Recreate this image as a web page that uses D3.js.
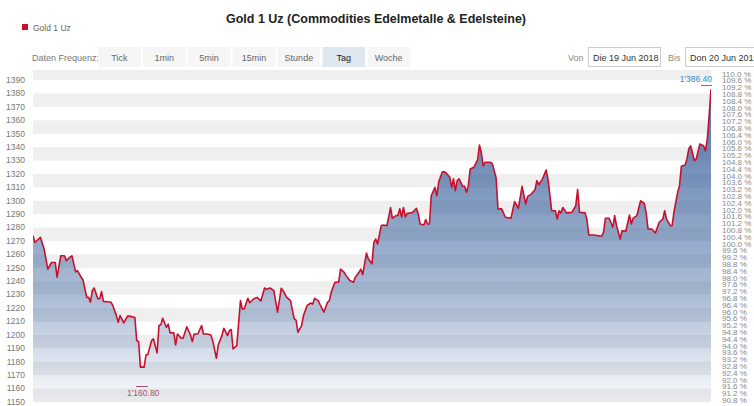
<!DOCTYPE html>
<html>
<head>
<meta charset="utf-8">
<script src="https://cdn.jsdelivr.net/npm/d3@7"></script>
<style>
  body { margin: 0; background: #fff; }
  svg { display: block; font-family: "Liberation Sans", Arial, sans-serif; }
</style>
</head>
<body>
<div id="chart"></div>
<script>
// days since 19 Jun 2018
var dayOffsets = [0,1,3,4,6,8,10,12,13,15,17,18,20,21,23,24,26,27,29,30,31,32,33,35,36,37,38,41,42,43,45,46,47,49,51,53,55,56,57,58,60,61,62,64,65,67,68,69,70,72,73,74,76,77,78,80,81,83,85,86,87,89,91,92,94,96,97,99,100,102,103,105,106,107,108,110,112,113,114,116,117,119,121,123,125,126,128,130,132,134,135,137,139,141,142,143,145,146,148,150,151,152,154,155,157,159,160,161,163,165,166,168,169,171,173,174,176,177,178,180,181,183,184,185,186,188,189,191,192,193,194,196,197,198,199,200,201,202,204,205,207,208,209,211,212,213,214,215,217,218,219,221,222,223,225,226,227,228,229,230,232,233,234,235,236,238,240,241,242,243,244,247,248,250,251,253,255,258,260,262,264,266,267,269,271,272,273,274,275,277,278,280,282,283,284,285,286,288,291,293,294,295,298,299,300,303,305,307,308,309,311,313,314,315,317,318,320,322,323,324,326,328,330,331,332,334,336,338,340,341,342,344,345,346,348,349,350,352,353,354,355,357,358,360,362,363,364,365,366];
var goldPrices = [1274,1269,1271.5,1272.8,1264,1249,1254,1254,1243,1259,1259,1255.4,1258,1259,1247,1248,1243,1241,1228,1228,1224.5,1233,1235,1227,1227,1232.3,1225,1224.5,1224.5,1222.3,1214.4,1209.4,1214.4,1209,1214,1213.8,1213,1195.7,1195,1176,1176,1185,1185.5,1195.7,1197,1186.6,1207,1207.5,1212.4,1205.7,1208,1201.5,1201.5,1192.5,1200.7,1197.5,1197.5,1206,1200,1195,1200.7,1200.7,1207,1200.7,1200.7,1200,1195.7,1182.6,1192.5,1199.5,1205,1199.5,1203.2,1204,1189.5,1192,1225.6,1219.4,1219.4,1227.3,1224,1226.8,1228,1225.3,1235,1234,1235,1233,1217,1234.8,1233,1228,1225.6,1212,1211,1202,1207,1214.4,1222,1223.8,1223,1227.3,1225.6,1222.5,1217,1224.3,1225.6,1232,1239.3,1239.3,1249,1246.7,1244.2,1240.5,1239.3,1243,1246.7,1249,1245,1261,1256.6,1253,1269,1271.5,1267.8,1281.4,1282,1281.4,1287.7,1295,1287,1289,1289,1294,1288,1295,1288,1290.7,1291,1291.5,1294.4,1290,1282.7,1282,1286,1282.7,1282.7,1303.8,1310,1303.8,1314,1321.7,1321.7,1320.7,1317.5,1310,1316.4,1307.5,1315,1316.4,1310.8,1310.8,1306.3,1311.3,1323.7,1325,1330.6,1341.6,1336,1326,1328.7,1328.7,1327.5,1317,1294,1294,1287.7,1287,1299.4,1294.4,1310.8,1297.6,1303.3,1305,1308.3,1315,1312,1314,1316.2,1323,1316.2,1292.6,1292.6,1286.4,1292.6,1291,1295,1291,1291.5,1296.4,1308.3,1291.5,1291,1286.4,1274.5,1274.5,1274,1273.6,1276.5,1287,1287,1280.3,1289,1281.5,1271.5,1277.7,1277.4,1289.4,1282.7,1287,1289,1300,1298,1291,1279,1279,1276,1284,1286.4,1292.6,1286.4,1281.5,1281.5,1291.5,1306.3,1311.3,1325.7,1326.7,1331,1338.6,1341,1330,1331,1342.3,1341,1337.3,1346,1363.4,1383.3];

var priceTicks = [1150,1160,1170,1180,1190,1200,1210,1220,1230,1240,1250,1260,1270,1280,1290,1300,1310,1320,1330,1340,1350,1360,1370,1380,1390];
var percentTicks = [110.0,109.6,109.2,108.8,108.4,108.0,107.6,107.2,106.8,106.4,106.0,105.6,105.2,104.8,104.4,104.0,103.6,103.2,102.8,102.4,102.0,101.6,101.2,100.8,100.4,100.0,99.6,99.2,98.8,98.4,98.0,97.6,97.2,96.8,96.4,96.0,95.6,95.2,94.8,94.4,94.0,93.6,93.2,92.8,92.4,92.0,91.6,91.2,90.8];
var basePrice = 1267.8;
var frequencies = ["Tick","1min","5min","15min","Stunde","Tag","Woche"];
var activeFrequency = "Tag";
var seriesName = "Gold 1 Uz";
var chartTitle = "Gold 1 Uz (Commodities Edelmetalle & Edelsteine)";
var dateFrom = "Die 19 Jun 2018", dateTo = "Don 20 Jun 2019";
var highLabel = "1'386.40", lowLabel = "1'160.80";

var width = 754, height = 406;
var plot = { left: 33, right: 711, top: 70, bottom: 402 };

var svg = d3.select("#chart").append("svg")
    .attr("width", width)
    .attr("height", height);

var xScale = d3.scaleLinear().domain([0, 366]).range([plot.left, plot.right]);
var yScale = d3.scaleLinear().domain([1150, 1397.5]).range([plot.bottom, plot.top]);

var data = dayOffsets.map(function (d, i) { return [d, goldPrices[i]]; });

// header
svg.append("text")
    .attr("x", 376).attr("y", 23)
    .attr("text-anchor", "middle")
    .style("font-size", "12.5px").style("font-weight", "bold").attr("fill", "#222")
    .text(chartTitle);

svg.append("rect").attr("x", 22).attr("y", 24).attr("width", 6).attr("height", 6).attr("fill", "#c8102e");
svg.append("text").attr("x", 33).attr("y", 30.5)
    .style("font-size", "8.5px").attr("fill", "#666").text(seriesName);

svg.append("text").attr("x", 32).attr("y", 60.5)
    .style("font-size", "9px").attr("fill", "#777").text("Daten Frequenz:");

var btnX = d3.scaleBand().domain(frequencies).range([98, 410]).paddingInner(0.05);
var btn = svg.selectAll(".btn").data(frequencies).enter().append("g")
    .attr("transform", function (d) { return "translate(" + btnX(d) + ",47)"; });
btn.append("rect")
    .attr("width", btnX.bandwidth()).attr("height", 20)
    .attr("fill", function (d) { return d === activeFrequency ? "#dfe7f0" : "#f6f6f6"; });
btn.append("text")
    .attr("x", btnX.bandwidth() / 2).attr("y", 13.5)
    .attr("text-anchor", "middle")
    .style("font-size", "9px")
    .attr("fill", function (d) { return d === activeFrequency ? "#222" : "#666"; })
    .text(function (d) { return d; });

svg.append("text").attr("x", 568).attr("y", 60.5).style("font-size", "9px").attr("fill", "#888").text("Von");
svg.append("rect").attr("x", 588.5).attr("y", 47.5).attr("width", 72).attr("height", 19)
    .attr("fill", "#fff").attr("stroke", "#ccc");
svg.append("text").attr("x", 593).attr("y", 60.5).style("font-size", "9px").attr("fill", "#333").text(dateFrom);
svg.append("text").attr("x", 668).attr("y", 60.5).style("font-size", "9px").attr("fill", "#888").text("Bis");
svg.append("rect").attr("x", 685.5).attr("y", 47.5).attr("width", 80).attr("height", 19)
    .attr("fill", "#fff").attr("stroke", "#ccc");
svg.append("text").attr("x", 690).attr("y", 60.5).style("font-size", "9px").attr("fill", "#333").text(dateTo);

// plot bands
svg.append("clipPath").attr("id", "plotClip").append("rect")
    .attr("x", plot.left).attr("y", plot.top)
    .attr("width", plot.right - plot.left).attr("height", plot.bottom - plot.top);

var g = svg.append("g").attr("clip-path", "url(#plotClip)");
g.selectAll(".band").data(priceTicks.filter(function (d, i) { return i % 2 === 0; }))
    .enter().append("rect")
    .attr("x", plot.left).attr("width", plot.right - plot.left)
    .attr("y", function (d) { return yScale(d + 10); })
    .attr("height", function (d) { return yScale(d) - yScale(d + 10); })
    .attr("fill", "#efefef");

// area gradient
var grad = svg.append("defs").append("linearGradient")
    .attr("id", "areaGrad").attr("gradientUnits", "userSpaceOnUse")
    .attr("x1", 0).attr("x2", 0).attr("y1", plot.top).attr("y2", plot.bottom);
[[0, 0.88], [0.25, 0.72], [0.7, 0.4], [0.9, 0.14], [1, 0.03]].forEach(function (s) {
    grad.append("stop").attr("offset", s[0]).attr("stop-color", "#375f9b").attr("stop-opacity", s[1]);
});

var area = d3.area()
    .x(function (d) { return xScale(d[0]); })
    .y0(plot.bottom)
    .y1(function (d) { return yScale(d[1]); });
var line = d3.line()
    .x(function (d) { return xScale(d[0]); })
    .y(function (d) { return yScale(d[1]); });

g.append("path").datum(data).attr("d", area).attr("fill", "url(#areaGrad)");
g.append("path").datum(data).attr("d", line)
    .attr("fill", "none").attr("stroke", "#c8102e").attr("stroke-width", 1.6)
    .attr("stroke-linejoin", "round");

// left axis
svg.selectAll(".ylab").data(priceTicks).enter().append("text")
    .attr("x", 25).attr("y", function (d) { return yScale(d); })
    .attr("dy", "0.33em").attr("text-anchor", "end")
    .style("font-size", "8.5px").attr("fill", "#777")
    .text(function (d) { return d; });

// right percent axis
svg.selectAll(".plab").data(percentTicks).enter().append("text")
    .attr("x", 722).attr("y", function (d) { return yScale(basePrice * d / 100); })
    .attr("dy", "0.33em")
    .style("font-size", "8px").attr("fill", "#888")
    .text(function (d) { return d.toFixed(1) + " %"; });

// high / low markers
svg.append("text").attr("x", 712).attr("y", 82).attr("text-anchor", "end")
    .style("font-size", "8.5px").attr("fill", "#3a8dc0").text(highLabel);
svg.append("line").attr("x1", 701).attr("x2", 712).attr("y1", 85.5).attr("y2", 85.5)
    .attr("stroke", "#3a8dc0").attr("stroke-width", 1);

svg.append("text").attr("x", 127).attr("y", 396)
    .style("font-size", "8.5px").attr("fill", "#b0506a").text(lowLabel);
svg.append("line").attr("x1", 136).attr("x2", 148).attr("y1", 386.5).attr("y2", 386.5)
    .attr("stroke", "#b0506a").attr("stroke-width", 1);
</script>
</body>
</html>
